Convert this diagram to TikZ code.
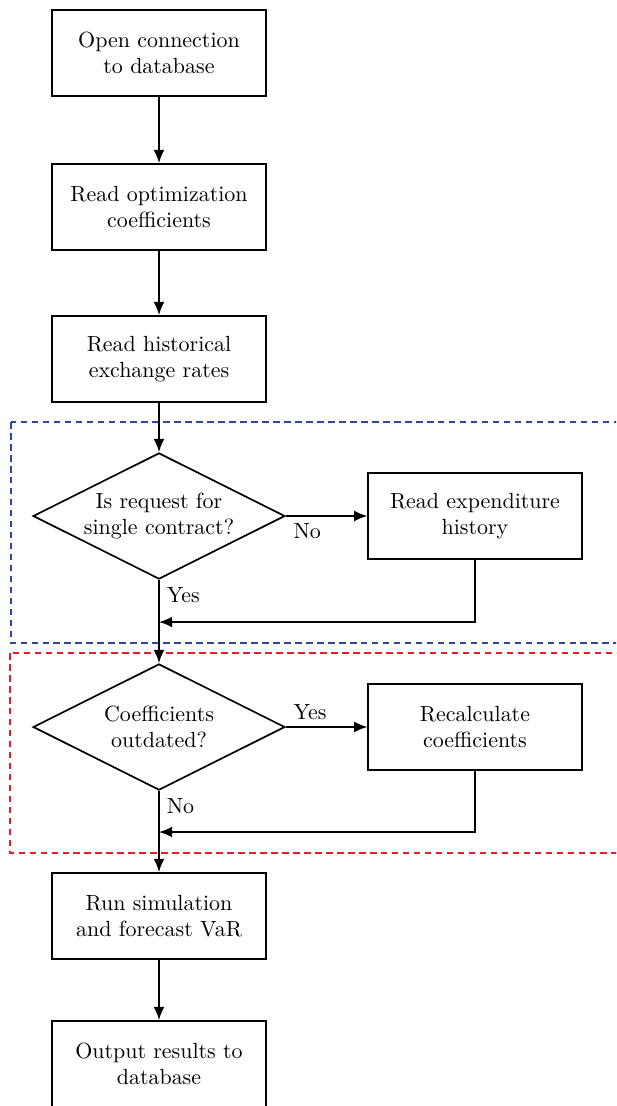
\documentclass[tikz,border=0pt]{standalone}
\usepackage{amsmath}
\usepackage{tikz}
\usepackage{xcolor}
\usetikzlibrary{shapes.geometric,arrows.meta,positioning}

\definecolor{regionblue}{RGB}{45,70,160}
\definecolor{regionred}{RGB}{230,30,40}

\begin{document}
\begin{tikzpicture}[x=0.016cm,y=-0.016cm,
    procbox/.style={rectangle,draw,line width=0.8pt,align=center,
      minimum width=3.42cm,minimum height=1.38cm},
    decision/.style={diamond,draw,line width=0.8pt,align=center,aspect=2,
      inner sep=0pt,minimum width=4.03cm,minimum height=2.02cm},
    flow/.style={line width=0.8pt,-{Latex[length=6pt,width=5pt]}},
    region/.style={dashed,dash pattern=on 3pt off 2pt,line width=0.7pt}]

    \clip (0,0) rectangle (616,1106);

    \draw[region,regionblue] (11,422) rectangle (660,643);
    \draw[region,regionred] (10,653) rectangle (660,853);

    \node[procbox] (open) at (159,53) {Open connection\\to database};
    \node[procbox] (coef) at (159,207) {Read optimization\\coefficients};
    \node[procbox] (rates) at (159,359) {Read historical\\exchange rates};

    \node[decision] (single) at (159,516) {Is request for\\single contract?};
    \node[procbox] (expend) at (475,516) {Read expenditure\\history};

    \node[decision] (outdated) at (159,727) {Coefficients\\outdated?};
    \node[procbox] (recalc) at (475,727) {Recalculate\\coefficients};

    \node[procbox] (run) at (159,916) {Run simulation\\and forecast VaR};
    \node[procbox] (output) at (159,1064) {Output results to\\database};

    \coordinate (joinA) at (159,622);
    \coordinate (joinB) at (159,832);

    \draw[flow] (open) -- (coef);
    \draw[flow] (coef) -- (rates);
    \draw[flow] (rates) -- (single);
    \draw[flow] (single.east) -- (expend.west);
    \draw[flow] (expend.south) |- (joinA);
    \draw[flow] (single.south) -- (outdated.north);
    \draw[flow] (outdated.east) -- (recalc.west);
    \draw[flow] (recalc.south) |- (joinB);
    \draw[flow] (outdated.south) -- (run.north);
    \draw[flow] (run) -- (output);

    \node[below right] at (single.east) {No};
    \node[below right] at (single.south) {Yes};
    \node[above right] at (outdated.east) {Yes};
    \node[below right] at (outdated.south) {No};
  \end{tikzpicture}
\end{document}
